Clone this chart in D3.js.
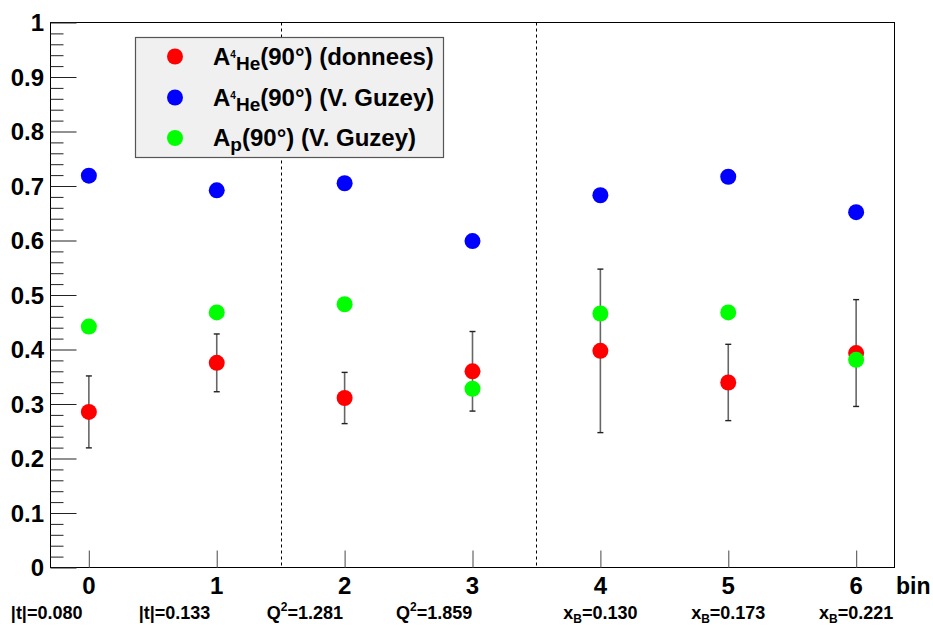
<!DOCTYPE html>
<html>
<head>
<meta charset="utf-8">
<script src="https://cdn.jsdelivr.net/npm/d3@7"></script>
<style>
  html, body { margin: 0; padding: 0; background: #fff; }
  svg { display: block; }
  text { font-family: "Liberation Sans", Arial, Helvetica, sans-serif; font-weight: bold; fill: #000; }
</style>
</head>
<body>
<svg id="chart" width="933" height="628"></svg>
<script>
// ---------- data ----------
const bins = [0, 1, 2, 3, 4, 5, 6];
const binLabels = ["|t|=0.080", "|t|=0.133", "Q2=1.281", "Q2=1.859", "xB=0.130", "xB=0.173", "xB=0.221"];
const labelShift = [-0.33, -0.33, -0.31, -0.30, 0, 0, 0];
const asymData = [0.2855, 0.3755, 0.311, 0.360, 0.3975, 0.3395, 0.3935];
const asymErr = [0.066, 0.053, 0.047, 0.073, 0.150, 0.070, 0.098];
const guzeyHe = [0.719, 0.692, 0.705, 0.599, 0.683, 0.717, 0.652];
const guzeyP = [0.442, 0.468, 0.483, 0.328, 0.466, 0.468, 0.381];
const separators = [1.5, 3.5];
const yTickValues = [0, 0.1, 0.2, 0.3, 0.4, 0.5, 0.6, 0.7, 0.8, 0.9, 1];
const yTickLabels = ["0", "0.1", "0.2", "0.3", "0.4", "0.5", "0.6", "0.7", "0.8", "0.9", "1"];
const seriesNames = ["donnees", "V. Guzey", "V. Guzey"];
const colors = ["#ff0000", "#0000ff", "#00ff00"];

// ---------- layout ----------
const svg = d3.select("#chart");
const L = 50.5, R = 894.5, T = 22.5, B = 567.5;
const x = d3.scaleLinear().domain([-0.3, 6.3]).range([L, R]);
const y = d3.scaleLinear().domain([0, 1]).range([B, T]);

// frame
svg.append("rect").attr("x", L).attr("y", T).attr("width", R - L).attr("height", B - T)
  .attr("fill", "none").attr("stroke", "#000").attr("stroke-width", 1);

// y axis: major + minor ticks
const yAxisMajor = d3.axisRight(y).tickValues(yTickValues).tickSize(26).tickFormat("");
const yMinorVals = d3.range(0, 51).map(i => i * 0.02).filter(v => Math.abs(v * 10 - Math.round(v * 10)) > 1e-6);
const yAxisMinor = d3.axisRight(y).tickValues(yMinorVals).tickSize(13).tickFormat("");
const gYMaj = svg.append("g").attr("transform", `translate(${L},0)`).call(yAxisMajor);
const gYMin = svg.append("g").attr("transform", `translate(${L},0)`).call(yAxisMinor);
[gYMaj, gYMin].forEach(g => {
  g.select(".domain").remove();
  g.selectAll("line").attr("stroke", "#222").attr("stroke-width", 1);
});

// y tick labels
svg.append("g").selectAll("text").data(yTickValues).join("text")
  .attr("x", 44).attr("y", d => y(d)).attr("dy", "0.36em")
  .attr("text-anchor", "end").attr("font-size", 24)
  .text((d, i) => yTickLabels[i]);

// x axis ticks
const xAxis = d3.axisTop(x).tickValues(bins).tickSize(17).tickFormat("");
const gX = svg.append("g").attr("transform", `translate(0,${B})`).call(xAxis);
gX.select(".domain").remove();
gX.selectAll("line").attr("stroke", "#666").attr("stroke-width", 1.2);

// x tick labels
svg.append("g").selectAll("text").data(bins).join("text")
  .attr("x", d => x(d)).attr("y", 594).attr("text-anchor", "middle").attr("font-size", 24)
  .text(d => d);
svg.append("text").attr("x", 896).attr("y", 594).attr("font-size", 23).text("bin");

// bin description labels
const descG = svg.append("g");
binLabels.forEach((lab, i) => {
  const t = descG.append("text").attr("x", x(bins[i] + labelShift[i])).attr("y", 619)
    .attr("text-anchor", "middle").attr("font-size", 18);
  if (lab.startsWith("Q2")) {
    t.append("tspan").text("Q");
    t.append("tspan").attr("font-size", 12).attr("dy", -8).text("2");
    t.append("tspan").attr("dy", 8).text(lab.slice(2));
  } else if (lab.startsWith("xB")) {
    t.append("tspan").text("x");
    t.append("tspan").attr("font-size", 12).attr("dy", 4).text("B");
    t.append("tspan").attr("dy", -4).text(lab.slice(2));
  } else {
    t.text(lab);
  }
});

// separators
svg.append("g").selectAll("line").data(separators).join("line")
  .attr("x1", d => Math.round(x(d)) + 0.5).attr("x2", d => Math.round(x(d)) + 0.5)
  .attr("y1", T).attr("y2", B)
  .attr("stroke", "#000").attr("stroke-width", 1).attr("stroke-dasharray", "3,3");

// error bars
const eb = svg.append("g");
bins.forEach((b, i) => {
  const cx = x(b);
  eb.append("line").attr("x1", cx).attr("x2", cx)
    .attr("y1", y(asymData[i] - asymErr[i])).attr("y2", y(asymData[i] + asymErr[i]))
    .attr("stroke", "#666").attr("stroke-width", 1.6);
  [asymData[i] - asymErr[i], asymData[i] + asymErr[i]].forEach(v => {
    eb.append("line").attr("x1", cx - 3).attr("x2", cx + 3).attr("y1", y(v)).attr("y2", y(v))
      .attr("stroke", "#222").attr("stroke-width", 1.4);
  });
});

// markers
const R0 = 8;
[asymData, guzeyHe, guzeyP].forEach((series, s) => {
  svg.append("g").selectAll("circle").data(series).join("circle")
    .attr("cx", (d, i) => x(bins[i])).attr("cy", d => y(d)).attr("r", R0)
    .attr("fill", colors[s]);
});

// legend
const lg = svg.append("g");
lg.append("rect").attr("x", 135.5).attr("y", 37.5).attr("width", 308).attr("height", 120)
  .attr("fill", "#f0f0f0").attr("stroke", "#555").attr("stroke-width", 1.2);
const rowsY = [56.5, 97.5, 138];
rowsY.forEach((ry, i) => {
  lg.append("circle").attr("cx", 175).attr("cy", ry).attr("r", R0).attr("fill", colors[i]);
  const t = lg.append("text").attr("x", 213).attr("y", ry + 8).attr("font-size", 24);
  t.append("tspan").text("A");
  if (i < 2) {
    t.append("tspan").attr("font-size", 10).attr("dy", -7).text("4");
    t.append("tspan").attr("font-size", 19).attr("dy", 12).text("He");
    t.append("tspan").attr("dy", -5).text("(90°) (" + seriesNames[i] + ")");
  } else {
    t.append("tspan").attr("font-size", 19).attr("dy", 5).text("p");
    t.append("tspan").attr("dy", -5).text("(90°) (" + seriesNames[i] + ")");
  }
});
</script>
</body>
</html>
